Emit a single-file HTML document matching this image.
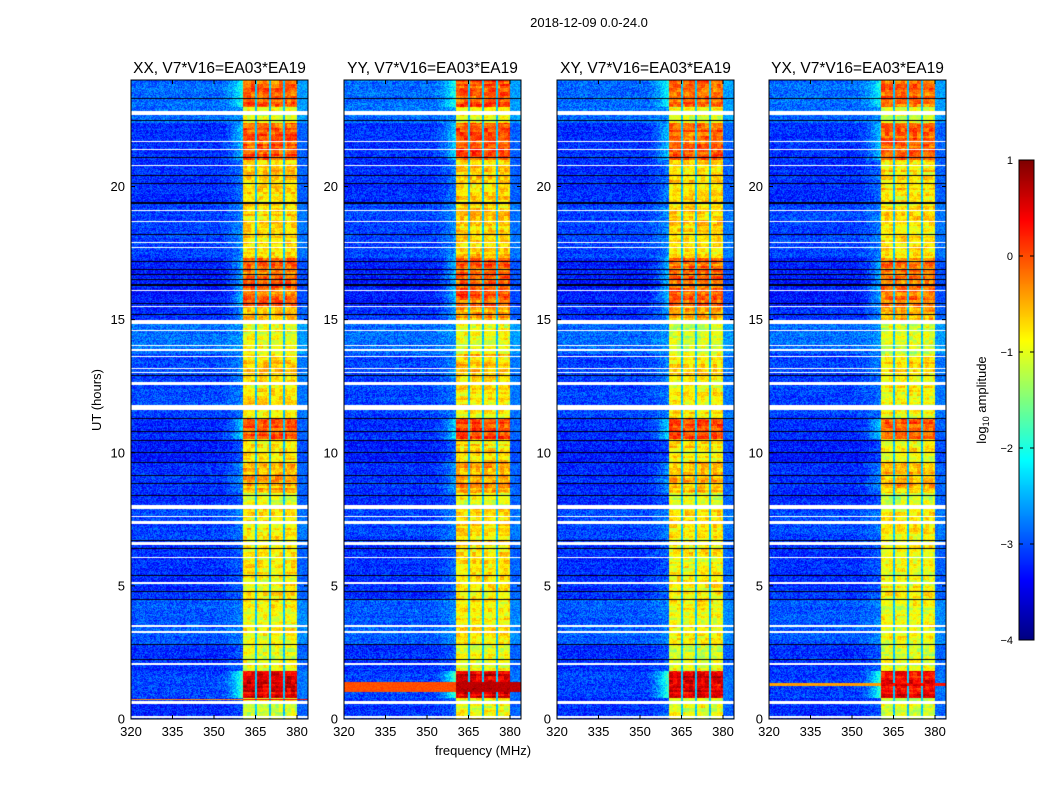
<!DOCTYPE html>
<html><head><meta charset="utf-8">
<style>
html,body{margin:0;padding:0;background:#fff;width:1050px;height:800px;overflow:hidden;font-family:"Liberation Sans","DejaVu Sans",sans-serif;}
canvas{position:absolute;}
svg{position:absolute;left:0;top:0;}
</style></head>
<body>
<canvas id="c0" width="177" height="639" style="left:131px;top:80px"></canvas>
<canvas id="c1" width="177" height="639" style="left:344px;top:80px"></canvas>
<canvas id="c2" width="177" height="639" style="left:557px;top:80px"></canvas>
<canvas id="c3" width="177" height="639" style="left:769px;top:80px"></canvas>
<canvas id="cb" width="15" height="480" style="left:1019px;top:160px"></canvas>
<svg id="ov" width="1050" height="800"></svg>
<script>
// ---- data ----
const panelTitles = ["XX, V7*V16=EA03*EA19","YY, V7*V16=EA03*EA19","XY, V7*V16=EA03*EA19","YX, V7*V16=EA03*EA19"];
const yTicks = [0,5,10,15,20];
const xTicks = [320,335,350,365,380];
const cbTicks = [1,0,-1,-2,-3,-4];
// time segments: [t0, t1, background log10 level, RFI band log10 level]
const segments = [[0,0.8,-3.15,-1.0],[0.8,1.8,-3.05,0.5],[1.8,2.8,-3.15,-1.0],[2.8,4.5,-2.95,-0.9],[4.5,6.6,-3.15,-0.85],[6.6,8.0,-3.05,-0.8],[8.0,8.5,-3.15,-1.0],[8.5,9.6,-3.15,-0.5],[9.6,10.5,-3.25,-0.8],[10.5,11.3,-3.15,0.0],[11.3,12.6,-3.05,-0.85],[12.6,13.7,-3.05,-0.7],[13.7,15.0,-2.85,-1.05],[15.0,15.5,-3.15,-0.5],[15.5,17.3,-3.25,-0.15],[17.3,19.4,-3.05,-0.7],[19.4,21.0,-3.15,-0.7],[21.0,22.4,-3.15,-0.1],[22.4,23.0,-2.85,-1.0],[23.0,24,-2.85,-0.1]];
const whiteRows = [[0.05,0.12],[0.55,0.68],[2.02,2.1],[3.22,3.32],[3.45,3.52],[5.08,5.13],[6.05,6.1],[6.55,6.65],[7.33,7.42],[7.58,7.63],[7.9,8.05],[11.62,11.78],[12.55,12.65],[13.0,13.04],[13.15,13.2],[13.58,13.62],[13.84,13.88],[14.02,14.06],[14.58,14.62],[14.85,14.97],[15.48,15.52],[16.08,16.12],[17.68,17.72],[17.88,17.92],[18.68,18.72],[19.08,19.12],[20.78,20.82],[21.38,21.42],[21.68,21.72],[22.7,22.82]];
const darkLines = [2.25,2.8,4.5,4.8,5.4,6.4,6.7,8.4,8.85,9.15,9.65,10.0,10.45,10.8,11.3,12.9,15.2,15.6,16.3,16.5,16.7,16.9,17.2,18.2,19.38,20.1,20.4,21.1,22.47,23.3];
// band edges (MHz) and inner gaps
const bandRange = [360.5,380];
const bandGaps = [365.2,370.2,375.3];
// per panel: band level offset
const panelBandOffset = [0,0.05,0,-0.05];
// full-width bright stripes per panel: [panel, t0, t1, level]
const stripes = [[1,1.0,1.4,0.1],[3,1.25,1.35,-0.3],[0,0.7,0.75,-0.2]];

// ---- scales ----
const PW=177, PH=639;
const lefts=[131,344,557,769], TOP=80;
function xf(f){return (f-320)/15*41.5;}
function yt(t){return PH-t/24*PH;}
function jet(v){ // v in log10, range -4..1
  let x=(v+4)/5; x=Math.max(0,Math.min(1,x));
  const c=a=>Math.max(0,Math.min(1,1.5-Math.abs(4*x-a)));
  return [c(3)*255,c(2)*255,c(1)*255];
}
function hash(a,b,p){let h=(a*374761393+b*668265263+p*982451653)|0;h=(h^(h>>>13))*1274126177|0;return ((h^(h>>>16))>>>0)/4294967296;}

function levelAt(p,f,t,px,py){
  let seg=segments[0];
  for(const s of segments){if(t>=s[0]&&t<s[1]){seg=s;break;}}
  const bg=seg[2], band=seg[3]+panelBandOffset[p];
  const n=hash(px,py,p)-0.5;
  const rowN=hash(0,py>>1,p+7)-0.5;
  const blob=hash(px>>2,py>>2,p+3)-0.5;
  let v;
  if(f>=bandRange[0]&&f<=bandRange[1]){
    v=band+n*0.35+rowN*0.4+blob*0.5;
    for(const g of bandGaps){if(Math.abs(f-g)<0.4)v=Math.min(v,-2.4+n*0.3);}
  } else if(f>bandRange[1]){
    v=bg+0.25+n*0.5;
  } else {
    v=bg+n*0.7+rowN*0.15;
    if(f>352){const k=(f-352)/(bandRange[0]-352);v+=k*k*Math.max(0,(band+0.9))*0.8+k*0.2;}
  }
  for(const s of stripes){if(s[0]===p&&t>=s[1]&&t<s[2]){v=Math.max(v,s[3]+n*0.2-(f<bandRange[0]?0.1:-0.6));}}
  return v;
}

for(let p=0;p<4;p++){
  const cv=document.getElementById('c'+p), ctx=cv.getContext('2d');
  const img=ctx.createImageData(PW,PH);
  for(let py=0;py<PH;py++){
    const t=(PH-py-0.5)/PH*24;
    let white=false;for(const w of whiteRows){if(t>=w[0]&&t<w[1])white=true;}
    let dark=false;for(const d of darkLines){if(Math.abs(t-d)<0.02)dark=true;}
    for(let px=0;px<PW;px++){
      const f=320+(px+0.5)/41.5*15;
      let col;
      if(white)col=[255,255,255];
      else if(dark)col=[0,0,20];
      else col=jet(levelAt(p,f,t,px,py));
      const i=(py*PW+px)*4;
      img.data[i]=col[0];img.data[i+1]=col[1];img.data[i+2]=col[2];img.data[i+3]=255;
    }
  }
  ctx.putImageData(img,0,0);
}
// colorbar
{const cv=document.getElementById('cb'),ctx=cv.getContext('2d');
 for(let y=0;y<480;y++){const v=1-y/480*5;const c=jet(v);ctx.fillStyle=`rgb(${c[0]|0},${c[1]|0},${c[2]|0})`;ctx.fillRect(0,y,15,1);}}

// ---- overlay ----
const NS='http://www.w3.org/2000/svg', ov=document.getElementById('ov');
function el(tag,attrs,txt){const e=document.createElementNS(NS,tag);for(const k in attrs)e.setAttribute(k,attrs[k]);if(txt!==undefined)e.textContent=txt;ov.appendChild(e);return e;}
let e;
e=el('text',{x:589,y:27,'font-size':13,'text-anchor':'middle'},'2018-12-09 0.0-24.0');


for(let p=0;p<4;p++){
  const L=lefts[p];
  e=el('rect',{x:L,y:TOP,width:PW,height:PH,fill:'none',stroke:'#000','stroke-width':1});
  
  
  e=el('text',{x:L+PW/2,y:73,'font-size':15.5,'text-anchor':'middle'},panelTitles[p]);
  
  
  for(const t of yTicks){
    const y=TOP+yt(t);
    e=el('path',{d:`M${L},${y}h4M${L+PW},${y}h-4`,stroke:'#000'});
    
    
    e=el('text',{x:L-6,y:y+4.5,'font-size':13,'text-anchor':'end'},String(t));
    
    
  }
  for(const f of xTicks){
    const x=L+xf(f);
    e=el('path',{d:`M${x},${TOP+PH}v-4M${x},${TOP}v4`,stroke:'#000'});
    
    
    e=el('text',{x:x,y:TOP+PH+17,'font-size':13,'text-anchor':'middle'},String(f));
    
    
  }
}
e=el('text',{x:483,y:755,'font-size':13,'text-anchor':'middle'},'frequency (MHz)');


e=el('text',{x:101,y:400,'font-size':13,'text-anchor':'middle',transform:'rotate(-90 101 400)'},'UT (hours)');


e=el('rect',{x:1019,y:160,width:15,height:480,fill:'none',stroke:'#000'});


for(const v of cbTicks){
  const y=160+(1-v)/5*480;
  e=el('path',{d:`M1019,${y}h4M1034,${y}h-4`,stroke:'#000'});
  
  
  e=el('text',{x:1013,y:y+4,'font-size':11,'text-anchor':'end'},v<0?'\u2212'+(-v):String(v));
  
  
}
e=el('text',{x:986,y:400,'font-size':13,'text-anchor':'middle',transform:'rotate(-90 986 400)'});
e.innerHTML='log<tspan font-size="9" dy="3">10</tspan><tspan dy="-3"> amplitude</tspan>';


</script>
</body></html>
